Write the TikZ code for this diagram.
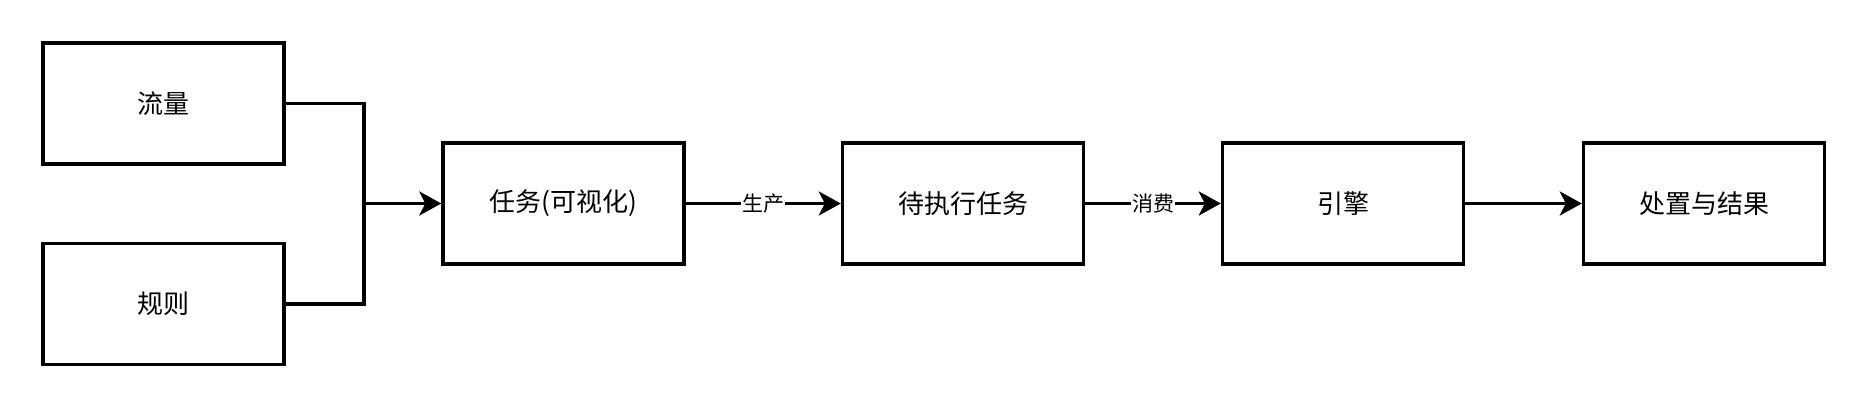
\documentclass[tikz,border=0pt]{standalone}
\usepackage{fontspec}
\newfontfamily\cjk{Noto Sans CJK SC}
\usetikzlibrary{arrows.meta}
\begin{document}
\begin{tikzpicture}[x=1pt,y=-1pt,
  box/.style={draw,line width=3.4pt,minimum width=241pt,minimum height=121pt,inner sep=0pt,font=\cjk\fontsize{26}{30}\selectfont},
  conn/.style={line width=3.4pt},
  arr/.style={conn,-{Stealth[length=22pt,width=24pt,inset=6pt]}},
  lbl/.style={fill=white,inner sep=1pt,font=\cjk\fontsize{21}{24}\selectfont}]
\useasboundingbox (0,0) rectangle (1864,404);
\node[box] (a) at (163.5,103.5) {流量};
\node[box] (b) at (163.5,304) {规则};
\node[box] (c) at (563.5,203.5) {任务(可视化)};
\node[box] (d) at (963,203.5) {待执行任务};
\node[box] (e) at (1343,203.5) {引擎};
\node[box] (f) at (1704,203.5) {处置与结果};
\coordinate (j) at (364,203.5);
\draw[conn] (a.east) -| (j);
\draw[conn] (b.east) -| (j);
\draw[arr] (j) -- (c.west);
\draw[arr] (c.east) -- node[lbl]{生产} (d.west);
\draw[arr] (d.east) -- node[lbl]{消费} (e.west);
\draw[arr] (e.east) -- (f.west);
\end{tikzpicture}
\end{document}
